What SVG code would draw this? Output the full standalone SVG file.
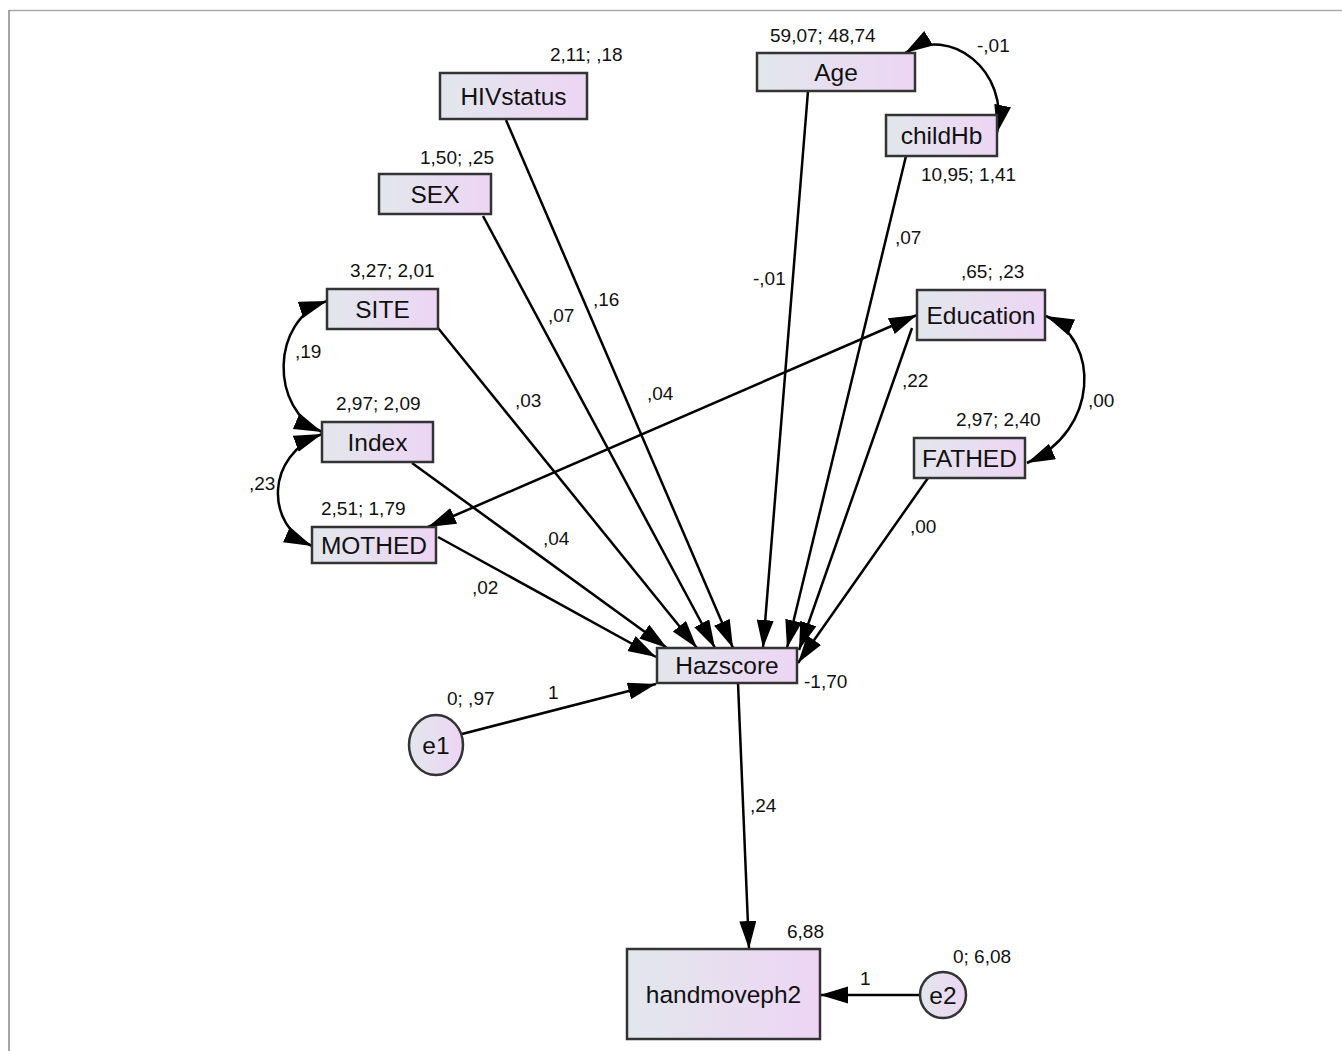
<svg xmlns="http://www.w3.org/2000/svg" width="1342" height="1051" viewBox="0 0 1342 1051">
<defs>
<linearGradient id="g" x1="0" y1="0" x2="1" y2="0">
<stop offset="0" stop-color="#e2e7ec"/>
<stop offset="1" stop-color="#edd5f4"/>
</linearGradient>
<marker id="ah" markerUnits="userSpaceOnUse" markerWidth="30" markerHeight="18" refX="28" refY="8.5" orient="auto-start-reverse">
<path d="M0,0 L28,8.5 L0,17 z" fill="#000"/>
</marker>
<style>
.box{fill:url(#g);stroke:#333;stroke-width:2.5}
.nt{font-family:"Liberation Sans",Arial,sans-serif;font-size:24.5px;fill:#111;text-anchor:middle}
.lb{font-family:"Liberation Sans",Arial,sans-serif;font-size:19px;fill:#111}
.ln{fill:none;stroke:#000;stroke-width:2.5}
.one{marker-end:url(#ah)}
.two{marker-start:url(#ah);marker-end:url(#ah)}
</style>
</defs>
<rect width="1342" height="1051" fill="#fff"/>
<line x1="9" y1="10.5" x2="1342" y2="10.5" stroke="#aaa" stroke-width="1.5"/>
<line x1="9" y1="10" x2="9" y2="1051" stroke="#888" stroke-width="1.5"/>
<g id="connectors">
<line class="ln one" x1="438" y1="537" x2="656" y2="657"/>
<line class="ln one" x1="412" y1="463" x2="667" y2="648"/>
<line class="ln one" x1="438" y1="328" x2="697" y2="648"/>
<line class="ln one" x1="483" y1="216" x2="715" y2="648"/>
<line class="ln one" x1="506" y1="120" x2="733" y2="648"/>
<line class="ln one" x1="808" y1="91" x2="763" y2="648"/>
<line class="ln one" x1="906" y1="156" x2="787" y2="648"/>
<line class="ln one" x1="912" y1="328" x2="799" y2="650"/>
<line class="ln one" x1="928" y1="478" x2="798" y2="663"/>
<line class="ln one" x1="462" y1="734" x2="656" y2="684"/>
<line class="ln one" x1="738" y1="683" x2="749" y2="949"/>
<line class="ln one" x1="920" y1="995" x2="820" y2="995"/>
<line class="ln two" x1="428" y1="527" x2="917" y2="315"/>
<path class="ln two" d="M905,53 C950,25 1010,70 997,133"/>
<path class="ln two" d="M327,301 C270,320 270,410 322,432"/>
<path class="ln two" d="M322,434 C265,455 265,525 312,546"/>
<path class="ln two" d="M1046,316 C1100,340 1100,430 1027,463"/>
</g>
<g id="lbl-paths">
<text class="lb" x="548" y="322">,07</text>
<text class="lb" x="593" y="306">,16</text>
<text class="lb" x="515" y="407">,03</text>
<text class="lb" x="647" y="400">,04</text>
<text class="lb" x="543" y="545">,04</text>
<text class="lb" x="472" y="594">,02</text>
<text class="lb" x="753" y="285">-,01</text>
<text class="lb" x="895" y="244">,07</text>
<text class="lb" x="902" y="387">,22</text>
<text class="lb" x="910" y="533">,00</text>
<text class="lb" x="1088" y="407">,00</text>
<text class="lb" x="977" y="52">-,01</text>
<text class="lb" x="295" y="358">,19</text>
<text class="lb" x="249" y="490">,23</text>
<text class="lb" x="548" y="699">1</text>
<text class="lb" x="750" y="812">,24</text>
<text class="lb" x="860" y="985">1</text>
</g>
<g id="HIVstatus"><rect class="box" x="440" y="73" width="147" height="46"/><text class="nt" x="513.5" y="104.5">HIVstatus</text><text class="lb" x="550" y="61">2,11; ,18</text></g>
<g id="SEX"><rect class="box" x="379" y="174" width="112" height="40"/><text class="nt" x="435" y="202.5">SEX</text><text class="lb" x="420" y="164">1,50; ,25</text></g>
<g id="Age"><rect class="box" x="757" y="53" width="158" height="38"/><text class="nt" x="836" y="80.5">Age</text><text class="lb" x="770" y="42">59,07; 48,74</text></g>
<g id="childHb"><rect class="box" x="886" y="115" width="111" height="41"/><text class="nt" x="941.5" y="144">childHb</text><text class="lb" x="921" y="181">10,95; 1,41</text></g>
<g id="SITE"><rect class="box" x="327" y="289" width="111" height="40"/><text class="nt" x="382.5" y="317.5">SITE</text><text class="lb" x="350" y="277">3,27; 2,01</text></g>
<g id="Index"><rect class="box" x="322" y="422" width="111" height="40"/><text class="nt" x="377.5" y="450.5">Index</text><text class="lb" x="336" y="410">2,97; 2,09</text></g>
<g id="MOTHED"><rect class="box" x="312" y="527" width="124" height="36"/><text class="nt" x="374" y="553.5">MOTHED</text><text class="lb" x="321" y="515">2,51; 1,79</text></g>
<g id="Education"><rect class="box" x="917" y="290" width="128" height="50"/><text class="nt" x="981" y="323.5">Education</text><text class="lb" x="961" y="278">,65; ,23</text></g>
<g id="FATHED"><rect class="box" x="914" y="438" width="111" height="40"/><text class="nt" x="969.5" y="466.5">FATHED</text><text class="lb" x="956" y="426">2,97; 2,40</text></g>
<g id="Hazscore"><rect class="box" x="657" y="648" width="140" height="35"/><text class="nt" x="727" y="674">Hazscore</text><text class="lb" x="804" y="688">-1,70</text></g>
<g id="handmoveph2"><rect class="box" x="627" y="949" width="193" height="90"/><text class="nt" x="723.5" y="1002.5">handmoveph2</text><text class="lb" x="787" y="938">6,88</text></g>
<g id="e1"><ellipse cx="436" cy="745" rx="27" ry="30" fill="url(#g)" stroke="#333" stroke-width="2.5"/><text class="nt" x="436" y="753.5">e1</text><text class="lb" x="447" y="705">0; ,97</text></g>
<g id="e2"><circle cx="943" cy="995" r="23" fill="url(#g)" stroke="#333" stroke-width="2.5"/><text class="nt" x="943" y="1003.5">e2</text><text class="lb" x="953" y="963">0; 6,08</text></g>
</svg>
